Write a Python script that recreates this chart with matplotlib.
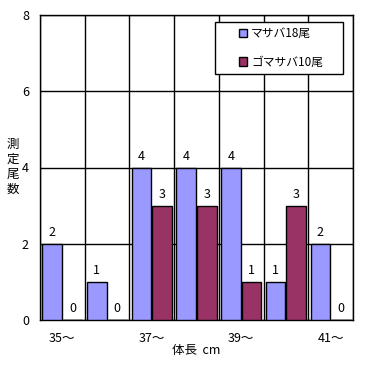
import matplotlib
matplotlib.use('Agg')
import matplotlib.pyplot as plt
from matplotlib.patches import Rectangle
import numpy as np

plt.rcParams['font.family'] = ['Noto Sans CJK JP', 'DejaVu Sans']

categories = ['35～', '36～', '37～', '38～', '39～', '40～', '41～']
masaba = [2, 1, 4, 4, 4, 1, 2]
gomasaba = [0, 0, 3, 3, 1, 3, 0]
tick_labels = ['35～', '', '37～', '', '39～', '', '41～']
ylabel_chars = ['測', '定', '尾', '数']

fig = plt.figure(figsize=(3.71, 3.65), dpi=100)
ax = fig.add_axes([40/371, 1-320/365, 313/371, 305/365])

x = np.arange(len(categories))
w = 0.44
b1 = ax.bar(x - w/2 - 0.01, masaba, w, color='#9999FF', edgecolor='black', linewidth=1, label='マサバ18尾', zorder=3)
b2 = ax.bar(x + w/2 + 0.01, gomasaba, w, color='#993366', edgecolor='black', linewidth=1, label='ゴマサバ10尾', zorder=3)

for bars, vals in [(b1, masaba), (b2, gomasaba)]:
    for r, v in zip(bars, vals):
        ax.annotate(str(v), (r.get_x() + r.get_width()/2, v), xytext=(0, 8),
                    textcoords='offset points', ha='center', va='center', fontsize=9)

ax.set_xlim(-0.5, 6.5)
ax.set_ylim(0, 8)
ax.set_yticks([0, 2, 4, 6, 8])
ax.set_xticks(x)
ax.set_xticklabels(tick_labels, fontsize=9)
ax.set_xticks(np.arange(-0.5, 7, 1), minor=True)
ax.tick_params(axis='both', which='both', length=0, labelsize=9)
ax.tick_params(axis='x', pad=9)
ax.tick_params(axis='y', pad=8)
ax.grid(True, axis='y', which='major', color='black', linewidth=1, zorder=0)
ax.grid(True, axis='x', which='minor', color='black', linewidth=1, zorder=0)
for s in ax.spines.values():
    s.set_linewidth(1)

ax.set_xlabel('体長  cm', fontsize=9, labelpad=-1)
for i, ch in enumerate(ylabel_chars):
    fig.text(13/371, 1-(144 + 15*i)/365, ch, ha='center', va='center', fontsize=9)

# legend box drawn by hand (wide, short frame like the original)
ax.add_patch(Rectangle((0.559, 0.807), 0.409, 0.170, transform=ax.transAxes,
                       facecolor='white', edgecolor='black', linewidth=1, zorder=4))
leg = ax.legend(loc='center', bbox_to_anchor=(0.770, 0.892), fontsize=8.5, frameon=False,
                handlelength=0.7, handleheight=0.7, handletextpad=0.3,
                labelspacing=1.3, borderpad=0, borderaxespad=0)
leg.set_zorder(5)

fig.savefig('out.png', dpi=100)
